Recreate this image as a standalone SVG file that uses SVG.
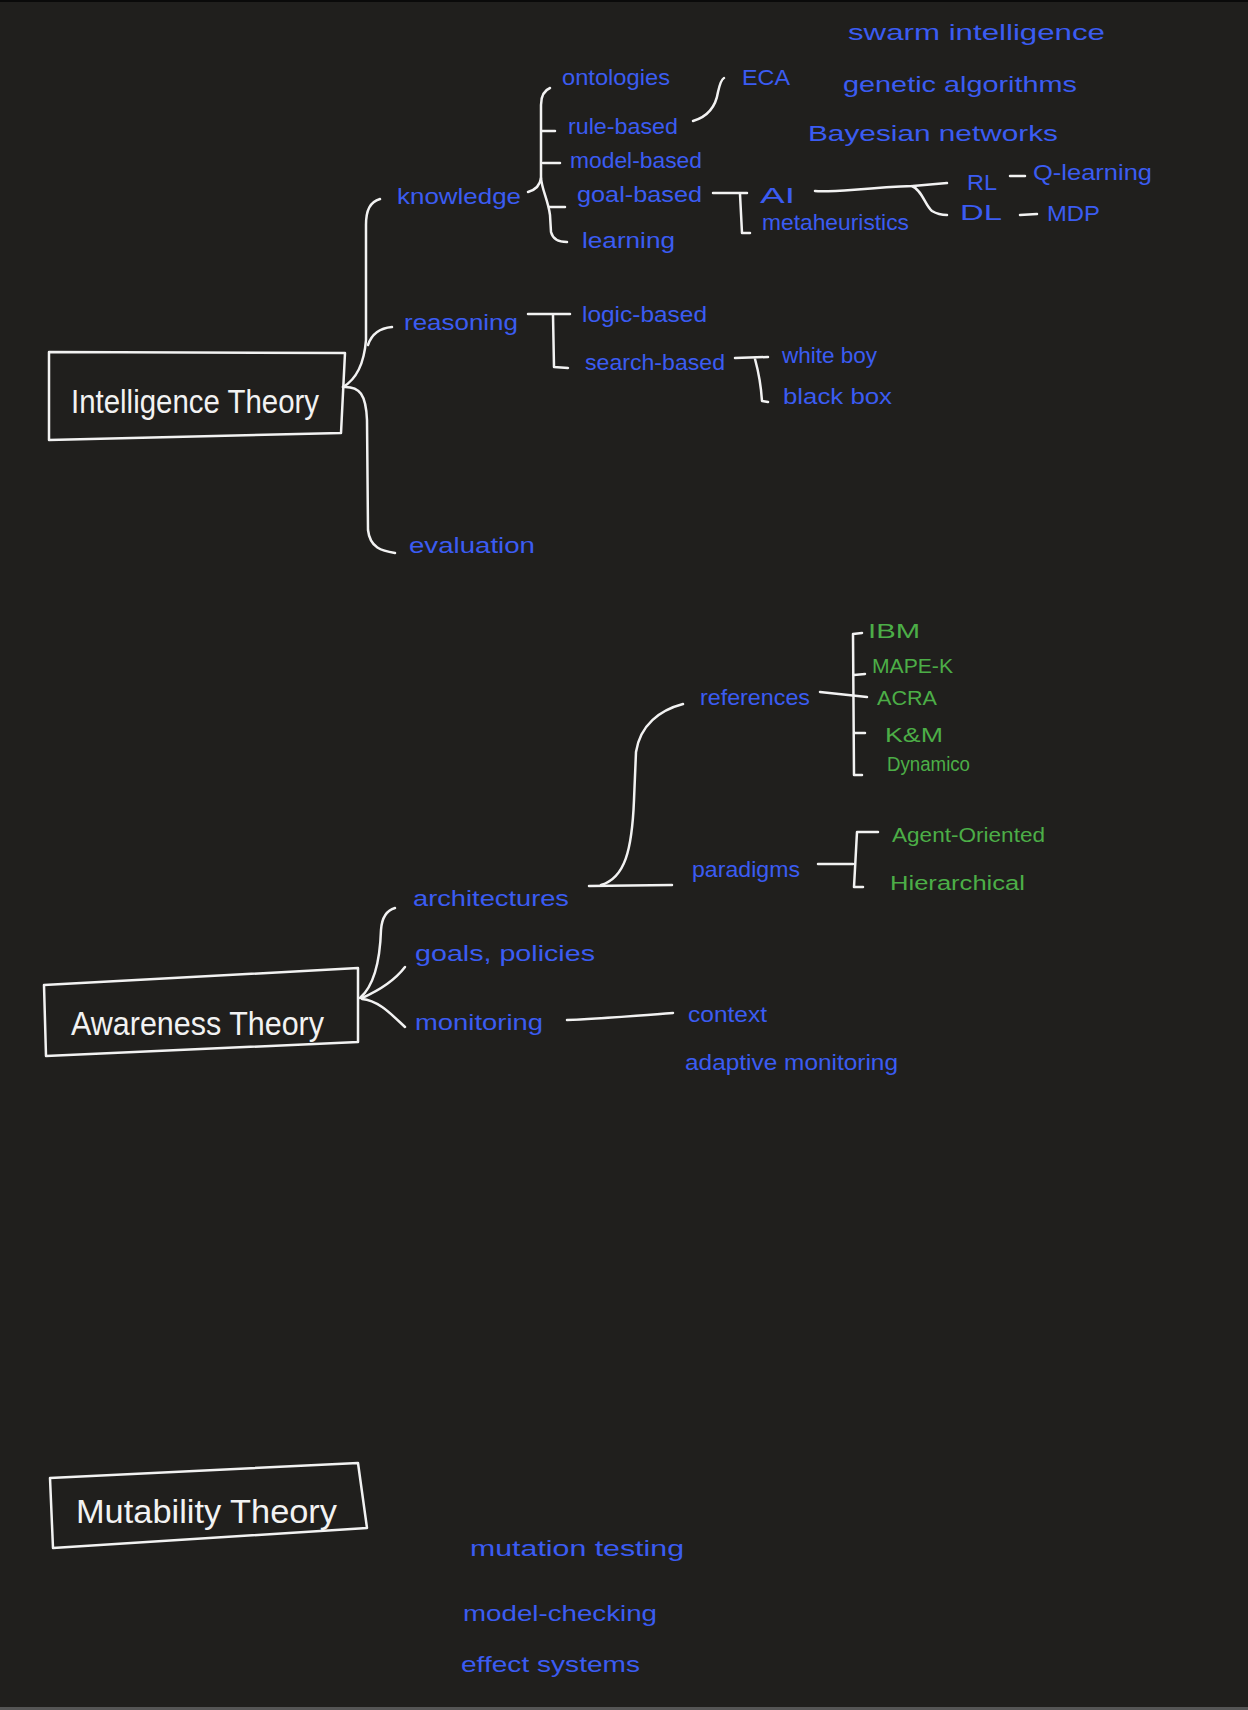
<svg xmlns="http://www.w3.org/2000/svg" width="1248" height="1710" viewBox="0 0 1248 1710">
<style>
text{font-family:"Liberation Sans","DejaVu Sans",sans-serif;}
.b{fill:#3b5cf2;font-size:22px;}
.g{fill:#4cae47;font-size:20px;}
.w{fill:#f2f2f2;font-size:34px;}
.box{fill:none;stroke:#f2f2f2;stroke-width:2.5;stroke-linejoin:round;}
.c{fill:none;stroke:#f2f2f2;stroke-width:2.5;stroke-linecap:round;stroke-linejoin:round;}
</style>
<rect x="0" y="0" width="1248" height="1710" fill="#201f1d"/>
<rect x="0" y="0" width="1248" height="2" fill="#0a0a0a"/>
<rect x="0" y="1707" width="1248" height="3" fill="#555555"/>

<g id="connectors">
<path class="c" d="M343,387 C355,380 364,365 366,340 L366,225 C366,210 370,202 380,199"/>
<path class="c" d="M368,345 C372,333 380,328 392,327"/>
<path class="c" d="M343,387 C360,386 366,395 367,420 L368,530 C370,548 382,551 395,553"/>
<path class="c" d="M528,192 C535,190 540,186 541,178 L541,105 C541,95 545,90 550,88"/>
<path class="c" d="M541,178 C542,190 548,200 550,215 L551,232 C553,240 560,242 567,242"/>
<path class="c" d="M542,131 L555,131"/>
<path class="c" d="M543,163 L560,163"/>
<path class="c" d="M549,207 L565,207"/>
<path class="c" d="M693,121 C710,116 716,105 718,92 C720,83 722,79 724,78"/>
<path class="c" d="M713,193 L747,193 M740,194 L742,233 L750,233"/>
<path class="c" d="M815,191 C830,193 860,188 913,186 L947,183"/>
<path class="c" d="M912,186 C922,190 925,205 932,211 C937,214 942,215 947,215"/>
<path class="c" d="M1010,176 L1025,176"/>
<path class="c" d="M1020,215 L1037,214"/>
<path class="c" d="M528,314 L570,314 M553,315 L554,367 L568,368"/>
<path class="c" d="M735,358 L768,357 M755,359 C758,370 761,385 762,401 L768,402"/>
<path class="c" d="M360,998 C375,985 380,960 381,930 C382,915 388,910 395,908"/>
<path class="c" d="M362,998 C380,990 395,980 405,967"/>
<path class="c" d="M362,999 C378,1000 392,1015 405,1027"/>
<path class="c" d="M567,1020 C600,1019 630,1016 673,1013"/>
<path class="c" d="M589,886 L672,885"/>
<path class="c" d="M601,885 C625,878 632,850 634,800 L636,752 C640,725 660,710 683,704"/>
<path class="c" d="M820,692 L867,697"/>
<path class="c" d="M862,633 L853,634 L854,775 L862,775 M854,675 L865,674 M855,733 L865,733"/>
<path class="c" d="M818,864 L853,864"/>
<path class="c" d="M878,832 L857,832 L854,887 L863,887"/>
</g>

<g id="intelligence-theory">
<path class="box" d="M49,352 L345,353 L341,433 L49,440 Z"/>
<text class="w" x="71" y="413" textLength="248" lengthAdjust="spacingAndGlyphs">Intelligence Theory</text>
</g>
<g id="knowledge"><text class="b" x="397" y="204" font-size="24" textLength="124" lengthAdjust="spacingAndGlyphs">knowledge</text></g>
<g id="reasoning"><text class="b" x="404" y="330" font-size="24" textLength="114" lengthAdjust="spacingAndGlyphs">reasoning</text></g>
<g id="evaluation"><text class="b" x="409" y="553" font-size="24" textLength="126" lengthAdjust="spacingAndGlyphs">evaluation</text></g>
<g id="ontologies"><text class="b" x="562" y="85" textLength="108" lengthAdjust="spacingAndGlyphs">ontologies</text></g>
<g id="rule-based"><text class="b" x="568" y="134" textLength="110" lengthAdjust="spacingAndGlyphs">rule-based</text></g>
<g id="model-based"><text class="b" x="570" y="168" textLength="132" lengthAdjust="spacingAndGlyphs">model-based</text></g>
<g id="goal-based"><text class="b" x="577" y="202" textLength="125" lengthAdjust="spacingAndGlyphs">goal-based</text></g>
<g id="learning"><text class="b" x="582" y="248" textLength="93" lengthAdjust="spacingAndGlyphs">learning</text></g>
<g id="eca"><text class="b" x="742" y="85" font-size="26" textLength="48" lengthAdjust="spacingAndGlyphs">ECA</text></g>
<g id="ai"><text class="b" x="760" y="203" textLength="35" lengthAdjust="spacingAndGlyphs">AI</text></g>
<g id="metaheuristics"><text class="b" x="762" y="230" textLength="147" lengthAdjust="spacingAndGlyphs">metaheuristics</text></g>
<g id="swarm-intelligence"><text class="b" x="848" y="40" font-size="24" textLength="257" lengthAdjust="spacingAndGlyphs">swarm intelligence</text></g>
<g id="genetic-algorithms"><text class="b" x="843" y="92" font-size="28" textLength="234" lengthAdjust="spacingAndGlyphs">genetic algorithms</text></g>
<g id="bayesian-networks"><text class="b" x="808" y="141" font-size="28" textLength="250" lengthAdjust="spacingAndGlyphs">Bayesian networks</text></g>
<g id="rl"><text class="b" x="967" y="190" textLength="30" lengthAdjust="spacingAndGlyphs">RL</text></g>
<g id="q-learning"><text class="b" x="1033" y="180" textLength="119" lengthAdjust="spacingAndGlyphs">Q-learning</text></g>
<g id="dl"><text class="b" x="960" y="220" textLength="42" lengthAdjust="spacingAndGlyphs">DL</text></g>
<g id="mdp"><text class="b" x="1047" y="221" font-size="24" textLength="53" lengthAdjust="spacingAndGlyphs">MDP</text></g>
<g id="logic-based"><text class="b" x="582" y="322" textLength="125" lengthAdjust="spacingAndGlyphs">logic-based</text></g>
<g id="search-based"><text class="b" x="585" y="370" textLength="140" lengthAdjust="spacingAndGlyphs">search-based</text></g>
<g id="white-boy"><text class="b" x="782" y="363" textLength="95" lengthAdjust="spacingAndGlyphs">white boy</text></g>
<g id="black-box"><text class="b" x="783" y="404" textLength="109" lengthAdjust="spacingAndGlyphs">black box</text></g>

<g id="awareness-theory">
<path class="box" d="M44,985 L358,968 L358,1042 L46,1056 Z"/>
<text class="w" x="71" y="1035" textLength="253" lengthAdjust="spacingAndGlyphs">Awareness Theory</text>
</g>
<g id="architectures"><text class="b" x="413" y="906" font-size="24" textLength="156" lengthAdjust="spacingAndGlyphs">architectures</text></g>
<g id="goals-policies"><text class="b" x="415" y="961" font-size="24" textLength="180" lengthAdjust="spacingAndGlyphs">goals, policies</text></g>
<g id="monitoring"><text class="b" x="415" y="1030" font-size="24" textLength="128" lengthAdjust="spacingAndGlyphs">monitoring</text></g>
<g id="context"><text class="b" x="688" y="1022" textLength="79" lengthAdjust="spacingAndGlyphs">context</text></g>
<g id="adaptive-monitoring"><text class="b" x="685" y="1070" textLength="213" lengthAdjust="spacingAndGlyphs">adaptive monitoring</text></g>
<g id="references"><text class="b" x="700" y="705" textLength="110" lengthAdjust="spacingAndGlyphs">references</text></g>
<g id="paradigms"><text class="b" x="692" y="877" textLength="108" lengthAdjust="spacingAndGlyphs">paradigms</text></g>
<g id="ibm"><text class="g" x="868" y="638" textLength="52" lengthAdjust="spacingAndGlyphs">IBM</text></g>
<g id="mape-k"><text class="g" x="872" y="673" textLength="81" lengthAdjust="spacingAndGlyphs">MAPE-K</text></g>
<g id="acra"><text class="g" x="877" y="705" textLength="60" lengthAdjust="spacingAndGlyphs">ACRA</text></g>
<g id="k-and-m"><text class="g" x="885" y="742" font-size="22" textLength="58" lengthAdjust="spacingAndGlyphs">K&amp;M</text></g>
<g id="dynamico"><text class="g" x="887" y="771" textLength="83" lengthAdjust="spacingAndGlyphs">Dynamico</text></g>
<g id="agent-oriented"><text class="g" x="892" y="842" textLength="153" lengthAdjust="spacingAndGlyphs">Agent-Oriented</text></g>
<g id="hierarchical"><text class="g" x="890" y="890" textLength="135" lengthAdjust="spacingAndGlyphs">Hierarchical</text></g>

<g id="mutability-theory">
<path class="box" d="M50,1478 L358,1463 L367,1528 L53,1548 Z"/>
<text class="w" x="76" y="1523" font-size="32" textLength="261" lengthAdjust="spacingAndGlyphs">Mutability Theory</text>
</g>
<g id="mutation-testing"><text class="b" x="470" y="1556" font-size="24" textLength="214" lengthAdjust="spacingAndGlyphs">mutation testing</text></g>
<g id="model-checking"><text class="b" x="463" y="1621" font-size="24" textLength="194" lengthAdjust="spacingAndGlyphs">model-checking</text></g>
<g id="effect-systems"><text class="b" x="461" y="1672" font-size="24" textLength="179" lengthAdjust="spacingAndGlyphs">effect systems</text></g>
</svg>
